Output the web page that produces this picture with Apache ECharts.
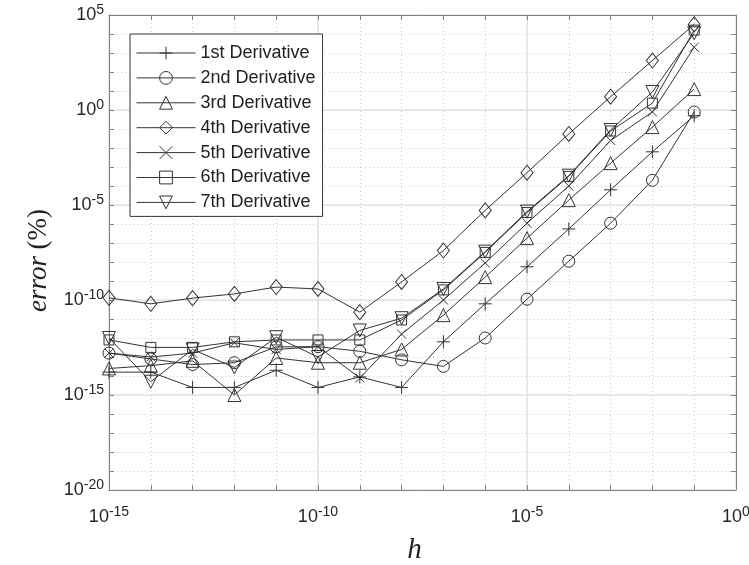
<!DOCTYPE html>
<html>
<head>
<meta charset="utf-8">
<script src="https://cdn.jsdelivr.net/npm/echarts@6/dist/echarts.min.js"></script>
<style>html,body{margin:0;padding:0;background:#fff}#c{width:749px;height:565px}</style>
</head>
<body>
<div id="c"></div>
<script>
var hValues = [1e-15,1e-14,1e-13,1e-12,1e-11,1e-10,1e-9,1e-8,1e-7,1e-6,1e-5,1e-4,1e-3,1e-2,1e-1];
var seriesNames = ['1st Derivative','2nd Derivative','3rd Derivative','4th Derivative','5th Derivative','6th Derivative','7th Derivative'];
var d1 = [1.6e-14,1.6e-14,2.5e-15,2.5e-15,2.0e-14,2.5e-15,9e-15,2.5e-15,6.3e-13,6.3e-11,5.6e-9,5.5e-7,6.3e-5,6.3e-3,0.5];
var d2 = [1.6e-13,7.9e-14,4.0e-14,5.0e-14,3.4e-13,3.5e-13,2.0e-13,7.1e-14,3.2e-14,1.0e-12,1.1e-10,1.1e-8,1.1e-6,2.0e-4,0.79];
var d3 = [2.5e-14,3.5e-14,6.3e-14,1.0e-15,8.9e-14,5.0e-14,5.0e-14,2.5e-13,1.6e-11,1.6e-9,1.8e-7,1.8e-5,1.6e-3,0.126,12.6];
var d4 = [1.3e-10,6.3e-11,1.26e-10,2.1e-10,4.8e-10,3.8e-10,2.3e-11,8.9e-10,4.0e-8,5.2e-6,5.0e-4,5.5e-2,5.0,400,3.2e4];
var d5 = [1.6e-13,1.0e-13,1.6e-13,5.6e-13,2.5e-13,3.5e-13,7.9e-15,1.6e-12,1.0e-10,8.9e-9,1.1e-6,1.0e-4,2.5e-2,0.79,2000];
var d6 = [7.9e-13,3.2e-13,3.2e-13,6.3e-13,7.9e-13,7.9e-13,7.9e-13,8.9e-12,3.4e-10,3.2e-8,4.0e-6,3.2e-4,7.9e-2,2.3,1.6e4];
var d7 = [1.0e-12,5.0e-15,2.5e-13,2.8e-14,1.1e-12,1.0e-13,2.5e-12,1.1e-11,3.8e-10,3.5e-8,4.5e-6,3.5e-4,8.9e-2,8.9,1.1e4];
var xRange = [1e-15, 1];
var yRange = [1e-20, 1e5];
var labelEvery = 5; // label every 5 decades

var allData = [d1,d2,d3,d4,d5,d6,d7];
var symbols = [
  'path://M5,0L5,10M0,5L10,5',
  'circle',
  'triangle',
  'diamond',
  'path://M0,0L10,10M10,0L0,10',
  'rect',
  'path://M0,0L10,0L5,8.66Z'
];
var sizes = [13, 12, 13, [12,15], 9, 10, 13];
var ink = '#333';
var axisGray = '#808080';

function pairs(arr){ return arr.map(function(v,i){ return [hValues[i], v]; }); }

var series = allData.map(function(arr, i){
  return {
    name: seriesNames[i],
    type: 'line',
    xAxisIndex: 0, yAxisIndex: 0,
    data: pairs(arr),
    symbol: symbols[i],
    symbolSize: sizes[i],
    showAllSymbol: true,
    clip: false,
    z: 5,
    lineStyle: {color: ink, width: 1},
    itemStyle: {color: 'rgba(0,0,0,0)', borderColor: ink, borderWidth: 1},
    emphasis: {disabled: true},
    animation: false
  };
});

function expLabel(v){
  var e = Math.round(Math.log10(v));
  if (e % labelEvery !== 0) return '';
  return '{b|10}{s|' + e + '}';
}
var labelRich = {
  b: {fontSize: 18, fontFamily: 'Liberation Sans', color: '#262626'},
  s: {fontSize: 14, fontFamily: 'Liberation Sans', color: '#262626', padding: [0,0,10,0]}
};

var minorGrid = {show: true, lineStyle: {color: '#cccccc', width: 1, type: [1,3]}};
var majorGrid = {show: true, lineStyle: {color: '#e2e2e2', width: 1.5}};
var tickStyle = {show: true, inside: true, length: 5, lineStyle: {color: axisGray}};

function logAxis(range, extra){
  var base = {type: 'log', logBase: 10, min: range[0], max: range[1], interval: 1,
    axisLine: {show: true, lineStyle: {color: axisGray}},
    axisTick: tickStyle,
    axisLabel: {show: false},
    splitLine: {show: false}};
  for (var k in extra) base[k] = extra[k];
  return base;
}

var chart = echarts.init(document.getElementById('c'), null, {renderer: 'canvas'});
chart.setOption({
  animation: false,
  backgroundColor: '#fff',
  grid: {left: 109, right: 13, top: 15, bottom: 75, show: false, containLabel: false, outerBoundsMode: 'none'},
  legend: {
    orient: 'vertical',
    left: 130, top: 34,
    data: seriesNames,
    itemWidth: 59, itemHeight: 16, itemGap: 6.9,
    padding: [10, 7, 5, 6],
    backgroundColor: '#fff',
    borderColor: '#333', borderWidth: 1,
    lineStyle: {width: 1, color: ink},
    itemStyle: {borderWidth: 1},
    textStyle: {fontSize: 18, fontFamily: 'Liberation Sans', color: '#222', padding: [0,0,0,0]},
    selectedMode: false
  },
  xAxis: [
    logAxis(xRange, {
      position: 'bottom',
      name: 'h', nameLocation: 'middle', nameGap: 46,
      nameTextStyle: {fontFamily: 'Liberation Serif', fontStyle: 'italic', fontSize: 29, color: '#222', padding: [0, 16, 0, 0]},
      axisLabel: {show: true, formatter: expLabel, rich: labelRich, margin: 15},
      splitLine: minorGrid
    }),
    logAxis(xRange, {position: 'top'}),
    logAxis(xRange, {position: 'bottom', interval: 5, axisLine: {show: false}, axisTick: {show: false}, splitLine: majorGrid})
  ],
  yAxis: [
    logAxis(yRange, {
      position: 'left',
      name: '{i|error}  {r|(%)}', nameLocation: 'middle', nameGap: 54,
      nameTextStyle: {padding: [0, 16, 0, 0], rich: {
        i: {fontFamily: 'Liberation Serif', fontStyle: 'italic', fontSize: 27, color: '#222'},
        r: {fontFamily: 'Liberation Serif', fontSize: 27, color: '#222'}
      }},
      axisLabel: {show: true, formatter: expLabel, rich: labelRich, margin: 5},
      splitLine: minorGrid
    }),
    logAxis(yRange, {position: 'right'}),
    logAxis(yRange, {position: 'left', interval: 5, axisLine: {show: false}, axisTick: {show: false}, splitLine: majorGrid})
  ],
  series: series
});
</script>
</body>
</html>
